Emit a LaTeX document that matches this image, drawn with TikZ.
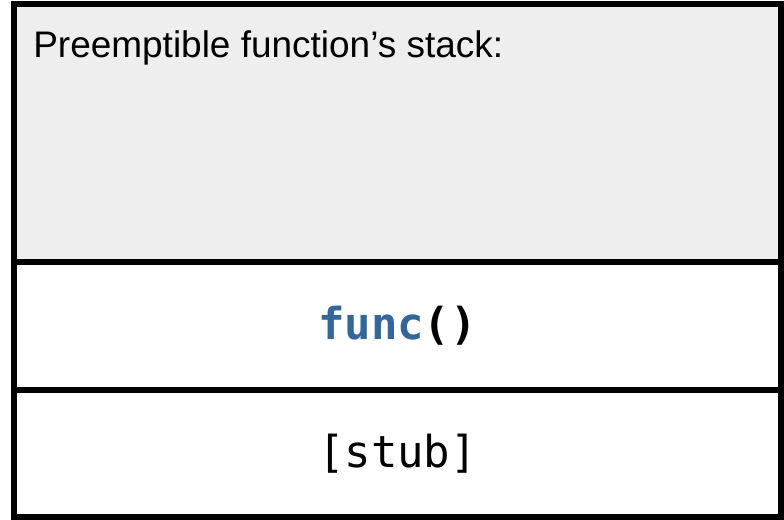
\documentclass[tikz,border=0pt]{standalone}
\usepackage{fontspec}
\setmainfont{Liberation Sans}
\setmonofont{DejaVu Sans Mono}
\usetikzlibrary{positioning}

\definecolor{stackgray}{RGB}{238,238,238}
\definecolor{funcblue}{RGB}{52,103,153}

\begin{document}
\begin{tikzpicture}[
    frame/.style={draw, line width=0.15cm, inner sep=0pt, outer sep=0pt, minimum width=19.175cm},
    code/.style={font=\fontsize{31.3}{36}\selectfont\ttfamily}
]
\useasboundingbox (0,0) rectangle (19.6,-12.975);
\node[frame, fill=stackgray, minimum height=6.4375cm] (stack) at (9.9375,-3.31875) {};
\node[frame, minimum height=3.2cm, below=0pt of stack] (func) {};
\node[frame, minimum height=3.1875cm, below=0pt of func] (stub) {};
\node[anchor=base west, inner sep=0pt, font=\fontsize{26.3}{31}\selectfont]
    (title) at ([xshift=0.475cm, yshift=-1.33cm]stack.north west) {Preemptible function’s stack:};
\node[code] (call) at (func) {\bfseries\textcolor{funcblue}{func}()};
\node[code] (stubtext) at (stub) {[stub]};
\end{tikzpicture}
\end{document}
